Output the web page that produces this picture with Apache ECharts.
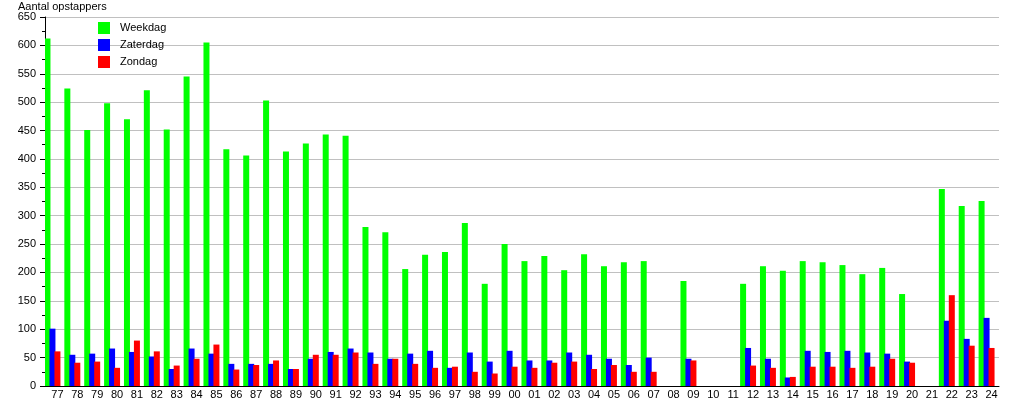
<!DOCTYPE html>
<html>
<head>
<meta charset="utf-8">
<script src="https://cdn.jsdelivr.net/npm/echarts@6/dist/echarts.min.js"></script>
<style>html,body{margin:0;padding:0;background:#fff}#c{width:1015px;height:400px}</style>
</head>
<body>
<div id="c"></div>
<script>
var categories = ['77','78','79','80','81','82','83','84','85','86','87','88','89','90','91','92','93','94','95','96','97','98','99','00','01','02','03','04','05','06','07','08','09','10','11','12','13','14','15','16','17','18','19','20','21','22','23','24'];
var weekdag = [612,524,451,498,470,521,452,545,605,417,406,503,413,427,443,441,280,271,206,231,236,287,180,250,220,229,204,232,211,218,220,null,185,null,null,180,211,203,220,218,213,197,208,162,null,347,317,326];
var zaterdag = [101,55,57,66,60,52,30,66,57,39,39,39,30,48,60,66,59,48,57,62,32,59,43,62,45,45,59,55,48,37,50,null,48,null,null,67,48,15,62,60,62,59,57,43,null,115,83,120];
var zondag = [61,41,43,32,80,61,36,48,73,29,37,45,30,55,55,59,39,48,39,32,34,25,22,34,32,41,43,30,37,25,25,null,45,null,null,36,32,16,34,34,32,34,48,41,null,160,71,67];
var seriesNames = ['Weekdag','Zaterdag','Zondag'];
var yTitle = 'Aantal opstappers';

var font = 'Liberation Sans, Arial, sans-serif';
var chart = echarts.init(document.getElementById('c'), null, {renderer:'canvas'});
function bar(name, data, color){
  return {name:name, type:'bar', data:data, barWidth:6, barGap:'-17%',
    itemStyle:{color:color}, animation:false, silent:true};
}
chart.setOption({
  animation:false,
  backgroundColor:'#fff',
  title:{text:yTitle, left:18, top:1, padding:0,
    textStyle:{fontFamily:font, fontSize:11, fontWeight:'normal', color:'#000'}},
  legend:{data:seriesNames, orient:'vertical', left:98, top:22, padding:0,
    itemWidth:12, itemHeight:12, itemGap:5, icon:'rect',
    textStyle:{fontFamily:font, fontSize:11, color:'#000', lineHeight:12, padding:[0,0,0,5]}},
  grid:{left:45, right:16, top:17, bottom:12.5, containLabel:false},
  xAxis:{type:'category', data:categories,
    axisLine:{lineStyle:{color:'#000', width:1}},
    axisTick:{show:false},
    axisLabel:{fontFamily:font, fontSize:11, color:'#000', margin:3, interval:0, padding:[0,0,0,5]},
    splitLine:{show:false}},
  yAxis:{type:'value', min:0, max:650, interval:50,
    axisLine:{show:true, lineStyle:{color:'#000', width:1}},
    axisTick:{show:true, length:5, lineStyle:{color:'#000'}},
    minorTick:{show:true, splitNumber:2, length:3, lineStyle:{color:'#000'}},
    axisLabel:{fontFamily:font, fontSize:11, color:'#000', margin:9},
    splitLine:{show:true, lineStyle:{color:'#c0c0c0', width:1}}},
  series:[
    bar(seriesNames[0], weekdag, '#00ff00'),
    bar(seriesNames[1], zaterdag, '#0000ff'),
    bar(seriesNames[2], zondag, '#ff0000'),
    {name:'_spacer', type:'bar', data:[], barWidth:6, barGap:'-17%', silent:true}
  ]
});
</script>
</body>
</html>
